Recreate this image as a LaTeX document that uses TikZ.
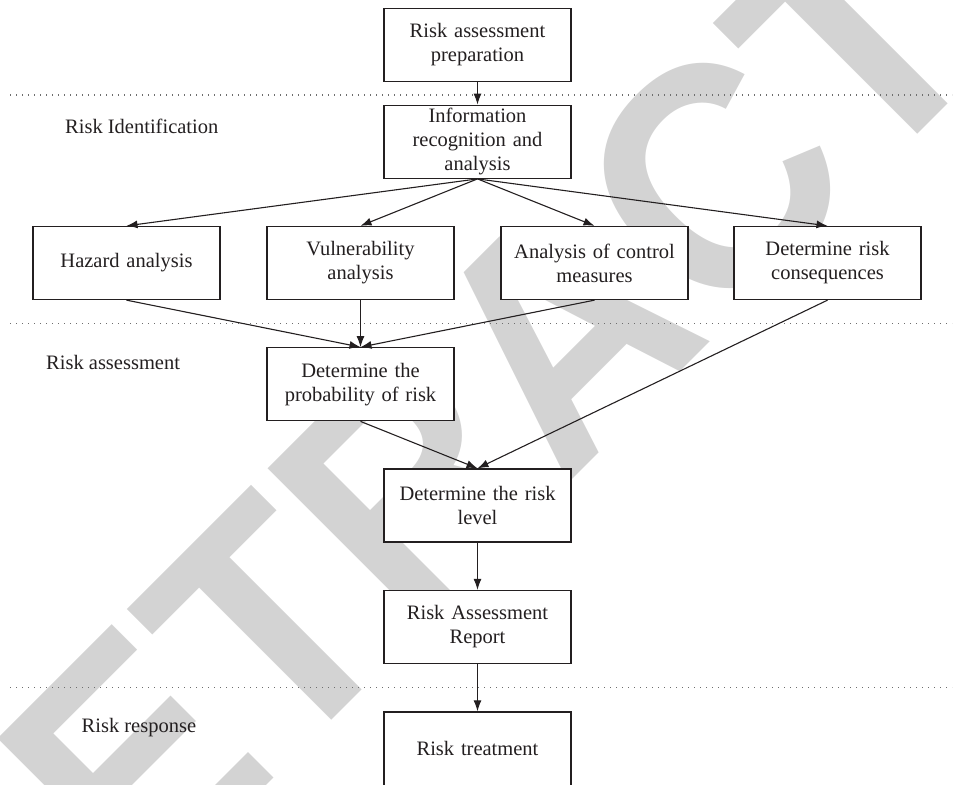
\documentclass[tikz,border=0pt]{standalone}
\usepackage{fontspec}
\setmainfont{Liberation Serif}
\newfontfamily\wmfont{Liberation Sans}
\usetikzlibrary{arrows.meta}
\definecolor{wmgray}{RGB}{211,211,211}
\definecolor{ink}{RGB}{35,31,32}
\definecolor{dotgray}{RGB}{110,110,110}
\begin{document}
\begin{tikzpicture}[x=1pt,y=-1pt,
  box/.style={draw=ink, line width=1.3pt, fill=white, minimum width=187pt, minimum height=73pt,
    inner sep=0pt, align=center, text width=182pt, font=\fontsize{20.5}{24}\selectfont, text=ink},
  lbl/.style={anchor=base west, inner sep=0pt, font=\fontsize{20.5}{24}\selectfont, text=ink},
  arr/.style={draw=ink, line width=1.1pt, -{Latex[length=11pt,width=8pt]}},
  sep/.style={draw=dotgray, line width=1.3pt, dash pattern=on 1.3pt off 4.7pt},
  wm/.style={rotate=45, anchor=base west, inner sep=0pt, text=wmgray,
    font=\wmfont\bfseries\fontsize{324}{324}\selectfont}]
\useasboundingbox (0,0) rectangle (955,784);
\clip (0,0) rectangle (955,784);
% watermark
\node[wm] (wmark) at (-10.5,1062.5) {\scalebox{0.921}[1]{RETRACTED}};
% separators
\coordinate (s1a) at (10,95);  \coordinate (s1b) at (952,95);
\coordinate (s2a) at (10,323.5); \coordinate (s2b) at (952,323.5);
\coordinate (s3a) at (10,687.5); \coordinate (s3b) at (952,687.5);
\draw[sep] (s1a) -- (s1b);
\draw[sep] (s2a) -- (s2b);
\draw[sep] (s3a) -- (s3b);
% stage labels
\node[lbl] (lid) at (65,133.3) {Risk Identification};
\node[lbl] (lass) at (46,369) {Risk assessment};
\node[lbl] (lresp) at (81.5,732.7) {Risk response};
% boxes
\node[box] (prep) at (477.5,44.75) {Risk assessment\\preparation};
\node[box] (info) at (477.5,141.75) {Information\\recognition and\\analysis};
\node[box] (hazard) at (126.5,263) {Hazard analysis};
\node[box] (vuln) at (360.5,263) {Vulnerability\\analysis};
\node[box] (ctrl) at (594.5,263) {Analysis of control\\measures};
\node[box] (cons) at (827.5,263) {Determine risk\\consequences};
\node[box] (prob) at (360.5,384.25) {Determine the\\probability of risk};
\node[box] (level) at (477.5,505.5) {Determine the risk\\level};
\node[box] (report) at (477.5,627) {Risk Assessment\\Report};
\node[box, minimum height=78pt] (treat) at (477.5,751) {\raisebox{5pt}{Risk treatment}};
% connectors
\draw[arr] (prep.south) -- (info.north);
\draw[arr] (info.south) -- (hazard.north);
\draw[arr] (info.south) -- (vuln.north);
\draw[arr] (info.south) -- (ctrl.north);
\draw[arr] (info.south) -- (cons.north);
\draw[arr] (hazard.south) -- (prob.north);
\draw[arr] (vuln.south) -- (prob.north);
\draw[arr] (ctrl.south) -- (prob.north);
\draw[arr] (prob.south) -- (level.north);
\draw[arr] (cons.south) -- (level.north);
\draw[arr] (level.south) -- (report.north);
\draw[arr] (report.south) -- (treat.north);
\end{tikzpicture}
\end{document}
